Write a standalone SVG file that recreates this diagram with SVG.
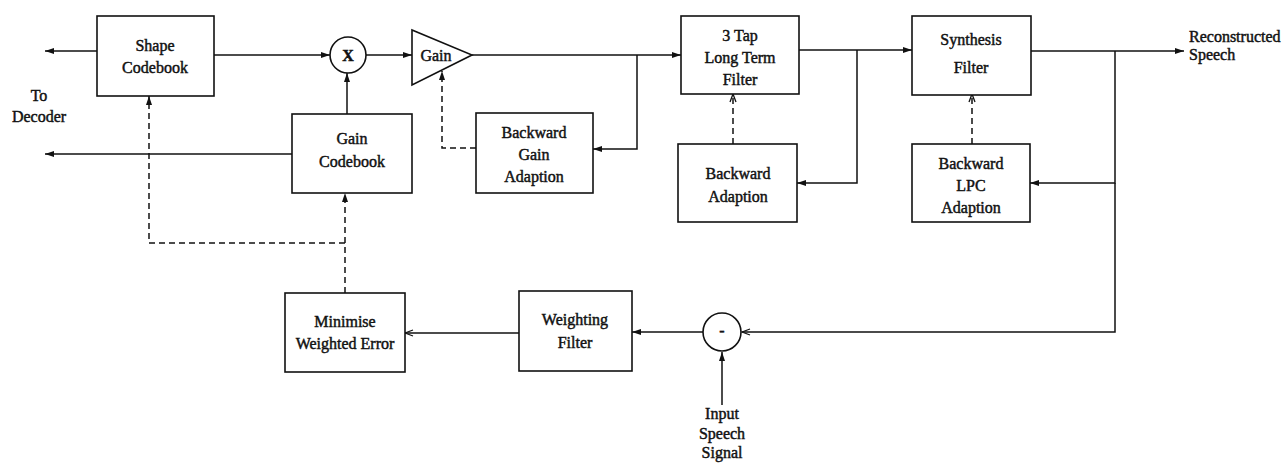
<svg xmlns="http://www.w3.org/2000/svg" width="1287" height="465" viewBox="0 0 1287 465">
<style>
  .box{fill:#fff;stroke:#111;stroke-width:1.6}
  .ln{fill:none;stroke:#111;stroke-width:1.5}
  .dash{fill:none;stroke:#111;stroke-width:1.5;stroke-dasharray:6,4}
  .t text{font-size:16px;fill:#111;text-anchor:middle;stroke:#111;stroke-width:0.45}
  .t .l{text-anchor:start}
</style>
<defs>
  <marker id="a" markerWidth="10" markerHeight="8" refX="9" refY="4" orient="auto" markerUnits="userSpaceOnUse">
    <path d="M0,1 L9,4 L0,7 z" fill="#111"/>
  </marker>
  <marker id="o" markerWidth="10" markerHeight="8" refX="9" refY="4" orient="auto" markerUnits="userSpaceOnUse">
    <path d="M1,1 L9,4 L1,7" fill="none" stroke="#111" stroke-width="1.3"/>
  </marker>
</defs>
<rect width="1287" height="465" fill="#fff"/>

<g id="connectors">
  <line class="ln" x1="97" y1="51" x2="45" y2="51" marker-end="url(#a)"/>
  <line class="ln" x1="214" y1="55" x2="330" y2="55" marker-end="url(#a)"/>
  <line class="ln" x1="292" y1="154" x2="45" y2="154" marker-end="url(#a)"/>
  <line class="ln" x1="347" y1="114" x2="347" y2="73" marker-end="url(#a)"/>
  <line class="ln" x1="366" y1="55" x2="412" y2="55" marker-end="url(#a)"/>
  <line class="ln" x1="472" y1="55" x2="681" y2="55" marker-end="url(#a)"/>
  <polyline class="ln" points="637,55 637,149 593,149" marker-end="url(#a)"/>
  <polyline class="dash" points="476,148 442,148 442,71" marker-end="url(#a)"/>
  <line class="ln" x1="799" y1="50" x2="912" y2="50" marker-end="url(#a)"/>
  <polyline class="ln" points="857,50 857,183 797,183" marker-end="url(#a)"/>
  <line class="dash" x1="733" y1="144" x2="733" y2="94" marker-end="url(#o)"/>
  <line class="ln" x1="1031" y1="51" x2="1184" y2="51" marker-end="url(#a)"/>
  <polyline class="ln" points="1115,51 1115,183 1030,183" marker-end="url(#a)"/>
  <line class="dash" x1="972" y1="144" x2="972" y2="94" marker-end="url(#o)"/>
  <polyline class="ln" points="1115,183 1115,332 742,332" marker-end="url(#o)"/>
  <line class="ln" x1="722" y1="405" x2="722" y2="352" marker-end="url(#a)"/>
  <line class="ln" x1="703" y1="332" x2="632" y2="332" marker-end="url(#a)"/>
  <line class="ln" x1="519" y1="333" x2="405" y2="333" marker-end="url(#o)"/>
  <line class="dash" x1="345" y1="293" x2="345" y2="193" marker-end="url(#a)"/>
  <polyline class="dash" points="345,243 149,243 149,96" marker-end="url(#a)"/>
</g>

<g class="t" font-family="'Liberation Serif', 'Times New Roman', 'DejaVu Serif', serif">
<g id="to-decoder">
  <text x="39" y="101">To</text>
  <text x="39" y="122">Decoder</text>
</g>

<g id="shape-codebook">
  <rect class="box" x="97" y="16" width="117" height="80"/>
  <text x="155" y="51">Shape</text>
  <text x="155" y="73">Codebook</text>
</g>

<g id="multiplier">
  <circle class="box" cx="348" cy="55" r="18"/>
  <text x="348" y="61" font-weight="bold">X</text>
</g>

<g id="gain">
  <polygon class="box" points="412,30 412,85 472,55"/>
  <text x="436" y="61">Gain</text>
</g>

<g id="gain-codebook">
  <rect class="box" x="292" y="114" width="120" height="79"/>
  <text x="352" y="144">Gain</text>
  <text x="352" y="167">Codebook</text>
</g>

<g id="backward-gain-adaption">
  <rect class="box" x="476" y="113" width="117" height="80"/>
  <text x="534" y="138">Backward</text>
  <text x="534" y="160">Gain</text>
  <text x="534" y="182">Adaption</text>
</g>

<g id="long-term-filter">
  <rect class="box" x="681" y="16" width="118" height="78"/>
  <text x="740" y="41">3 Tap</text>
  <text x="740" y="63">Long Term</text>
  <text x="740" y="85">Filter</text>
</g>

<g id="backward-adaption">
  <rect class="box" x="678" y="144" width="119" height="78"/>
  <text x="738" y="179">Backward</text>
  <text x="738" y="202">Adaption</text>
</g>

<g id="synthesis-filter">
  <rect class="box" x="912" y="16" width="119" height="79"/>
  <text x="971" y="45">Synthesis</text>
  <text x="971" y="73">Filter</text>
</g>

<g id="backward-lpc-adaption">
  <rect class="box" x="912" y="144" width="118" height="78"/>
  <text x="971" y="169">Backward</text>
  <text x="971" y="191">LPC</text>
  <text x="971" y="213">Adaption</text>
</g>

<g id="reconstructed-speech">
  <text class="l" x="1189" y="42">Reconstructed</text>
  <text class="l" x="1189" y="60">Speech</text>
</g>

<g id="subtractor">
  <circle class="box" cx="722" cy="332" r="19"/>
  <text x="722" y="336" font-weight="bold">-</text>
</g>

<g id="weighting-filter">
  <rect class="box" x="519" y="291" width="113" height="80"/>
  <text x="575" y="325">Weighting</text>
  <text x="575" y="348">Filter</text>
</g>

<g id="minimise-weighted-error">
  <rect class="box" x="285" y="293" width="120" height="79"/>
  <text x="345" y="327">Minimise</text>
  <text x="345" y="349">Weighted Error</text>
</g>

<g id="input-speech-signal">
  <text x="722" y="419">Input</text>
  <text x="722" y="439">Speech</text>
  <text x="722" y="458">Signal</text>
</g>
</g>
</svg>
